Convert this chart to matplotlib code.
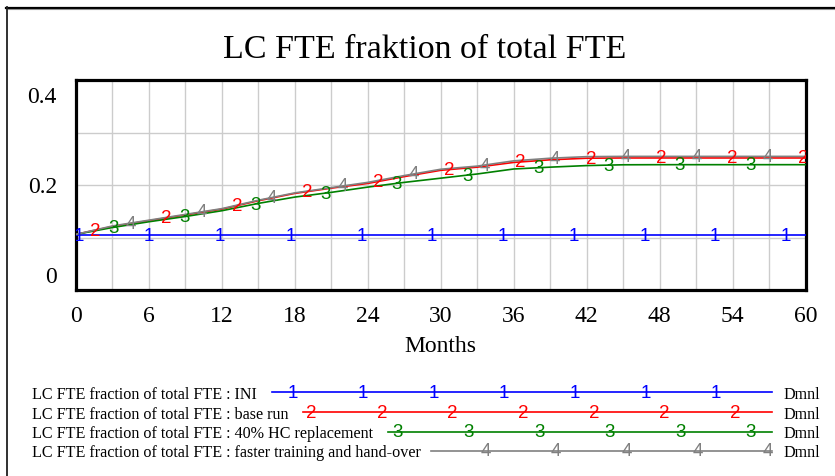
import numpy as np
import matplotlib.pyplot as plt
from matplotlib.lines import Line2D

# Simulation output, sampled every 3 months
months = np.arange(0, 61, 3)
ini = np.full(months.shape, 0.104)
base_run = [0.106, 0.121, 0.132, 0.143, 0.154, 0.170, 0.184, 0.194, 0.203, 0.216, 0.228,
            0.234, 0.243, 0.248, 0.251, 0.2515, 0.2515, 0.2515, 0.2515, 0.2515, 0.2515]
hc_replacement = [0.106, 0.119, 0.130, 0.140, 0.151, 0.165, 0.177, 0.186, 0.196, 0.205, 0.213,
                  0.221, 0.2305, 0.234, 0.237, 0.2385, 0.2387, 0.2387, 0.2387, 0.2387, 0.2387]
faster_training = [0.106, 0.122, 0.133, 0.144, 0.155, 0.171, 0.185, 0.195, 0.205, 0.218, 0.230,
                   0.236, 0.246, 0.251, 0.254, 0.2545, 0.2545, 0.2545, 0.2545, 0.2545, 0.2545]

run_names = ['INI', 'base run', '40% HC replacement', 'faster training and hand-over']
series = [ini, base_run, hc_replacement, faster_training]
colors = ['#0000ff', '#ff0000', '#008000', '#808080']
var_name = 'LC FTE fraction of total FTE'

serif = 'Liberation Serif'
sans = 'Liberation Sans'

W, H = 835, 477
fig = plt.figure(figsize=(W / 100, H / 100), dpi=100)

# overlay in pixel coordinates for frame, title and legend
ov = fig.add_axes([0, 0, 1, 1])
ov.set_xlim(0, W)
ov.set_ylim(H, 0)
ov.axis('off')
ov.plot([6, W], [8.5, 8.5], color='black', lw=1.6)
ov.plot([8, W], [10.3, 10.3], color='#909090', lw=0.8)
ov.plot([7, 7], [8, H], color='#202020', lw=1.3)
ov.text(425, 58, 'LC FTE fraktion of total FTE', family=serif, fontsize=24.5,
        ha='center', va='baseline')

# main plot
x0, x1, y0, y1 = 76, 805.5, 81, 291
ax = fig.add_axes([x0 / W, 1 - y1 / H, (x1 - x0) / W, (y1 - y0) / H])
ax.set_xlim(0, 60)
ax.set_ylim(0, 0.4)
ax.set_xticks(np.arange(0, 61, 6))
ax.set_xticks(np.arange(3, 60, 6), minor=True)
ax.set_yticks([0, 0.2, 0.4])
ax.set_yticks([0.1, 0.3], minor=True)
ax.grid(True, which='both', color='#cccccc', lw=1.0)
ax.set_axisbelow(True)
ax.tick_params(which='both', length=0)
ax.tick_params(axis='x', labelsize=17, pad=11)
ax.set_yticklabels([])
for lbl in ax.get_xticklabels():
    lbl.set_family(serif)
for s in ax.spines.values():
    s.set_linewidth(2.3)
    s.set_color('black')
ax.set_xlabel('Months', family=serif, fontsize=17, labelpad=6)

# y tick labels nudged inward at the ends
for val, txt, dy in [(0.4, '0.4', -17), (0.2, '0.2', -2), (0.0, '0', 13)]:
    ax.annotate(txt, xy=(0, val), xycoords=('axes fraction', 'data'),
                xytext=(-19 * 0.72, dy * 0.72), textcoords='offset points',
                ha='right', va='center', family=serif, fontsize=17)

# lines with numbered markers
starts = [0.2, 1.6, 3.1, 4.5]
for i, (vals, col) in enumerate(zip(series, colors)):
    ax.plot(months, vals, color=col, lw=1.2, zorder=3)
    mx = np.arange(starts[i], 60.01, 5.82)
    my = np.interp(mx, months, vals)
    for xx, yy in zip(mx, my):
        ax.text(xx, yy, str(i + 1), color=col, family=sans, fontsize=13.5,
                ha='center', va='center', zorder=4, clip_on=True)

# legend rows
row_base = [399, 419, 438.3, 457.3]
line_start = [272, 303, 388, 431]
last_mark = [716, 735, 751, 768]
n_marks = [7, 7, 6, 5]
for i in range(4):
    yb = row_base[i]
    yl = yb - 5.8
    ov.text(32, yb, f'{var_name} : {run_names[i]}', family=serif, fontsize=11.6,
            ha='left', va='baseline')
    ov.add_line(Line2D([line_start[i], 772], [yl, yl], color=colors[i], lw=1.2))
    for k in range(n_marks[i]):
        ov.text(last_mark[i] - 70.6 * k, yl, str(i + 1), color=colors[i], family=sans,
                fontsize=13.5, ha='center', va='center')
    ov.text(783, yb, 'Dmnl', family=serif, fontsize=11.6, ha='left', va='baseline')

fig.savefig('out.png', dpi=100)
